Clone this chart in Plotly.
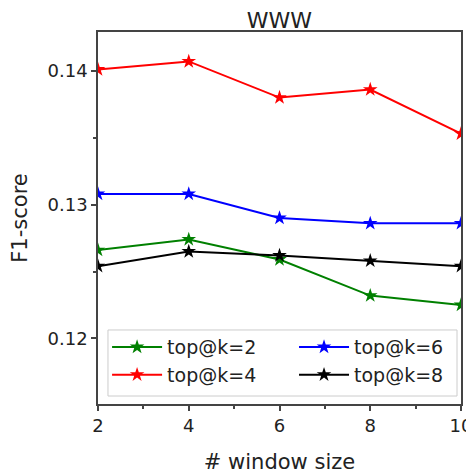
import plotly.graph_objects as go

window_size = [2, 4, 6, 8, 10]

# F1-score per top@k
f1_k2 = [0.1266, 0.1274, 0.1259, 0.1232, 0.1225]
f1_k4 = [0.1401, 0.1407, 0.1380, 0.1386, 0.1353]
f1_k6 = [0.1308, 0.1308, 0.1290, 0.1286, 0.1286]
f1_k8 = [0.1254, 0.1265, 0.1262, 0.1258, 0.1254]

series_names = ["top@k=2", "top@k=4", "top@k=6", "top@k=8"]
series_vals = [f1_k2, f1_k4, f1_k6, f1_k8]
series_cols = ["#008000", "#ff0000", "#0000ff", "#000000"]
# two legend columns like matplotlib ncol=2
series_legend = ["legend", "legend", "legend2", "legend2"]

fig = go.Figure()
for name, vals, col, lg in zip(series_names, series_vals, series_cols, series_legend):
    fig.add_trace(go.Scatter(
        x=window_size, y=vals, name=name, mode="lines+markers", legend=lg,
        line=dict(color=col, width=2),
        marker=dict(symbol="star", size=11, color=col),
    ))

axis_common = dict(
    showgrid=False, zeroline=False, showline=True, mirror=True, automargin=False,
    linecolor="#444444", linewidth=1.5,
    ticks="outside", ticklen=5, tickwidth=1.5, tickcolor="#444444",
    tickfont=dict(size=18, color="#222222"),
)

fig.update_xaxes(
    range=[2, 10], tickvals=[2, 4, 6, 8, 10],
    minor=dict(tickvals=[3, 5, 7, 9], ticklen=3, tickcolor="#444444", ticks="outside"),
    title=dict(text="# window size", font=dict(size=21, color="#222222"), standoff=20),
    **axis_common,
)
fig.update_yaxes(
    range=[0.1151, 0.1429], tickvals=[0.12, 0.13, 0.14], ticktext=["0.12", "0.13", "0.14"],
    minor=dict(tickvals=[0.115, 0.125, 0.135], ticklen=3, tickcolor="#444444", ticks="outside"),
    title=dict(text="F1-score", font=dict(size=21, color="#222222"), standoff=26),
    **axis_common,
)

legend_style = dict(
    orientation="v", yanchor="top", xanchor="left", y=0.204,
    bgcolor="rgba(0,0,0,0)", borderwidth=0,
    font=dict(size=19, color="#222222"), itemwidth=50,
)

# frame around both legend columns
fig.add_shape(
    type="rect", xref="paper", yref="paper",
    x0=0.0275, x1=0.989, y0=0.0215, y1=0.199,
    fillcolor="rgba(255,255,255,0.8)", line=dict(color="#cccccc", width=1),
    layer="above",
)

# page body has an 8px margin, so the figure is a bit smaller than the window
fig.update_layout(
    width=466, height=466,
    margin=dict(l=90, r=13, t=24, b=70),
    paper_bgcolor="white", plot_bgcolor="white",
    font=dict(family="DejaVu Sans", color="#222222"),
    title=dict(text="WWW", xref="paper", x=0.5, xanchor="center", y=0.99, yanchor="top",
               font=dict(size=22, color="#222222")),
    legend=dict(x=0.025, **legend_style),
    legend2=dict(x=0.54, **legend_style),
    showlegend=True,
)

fig.write_html("out.html")
